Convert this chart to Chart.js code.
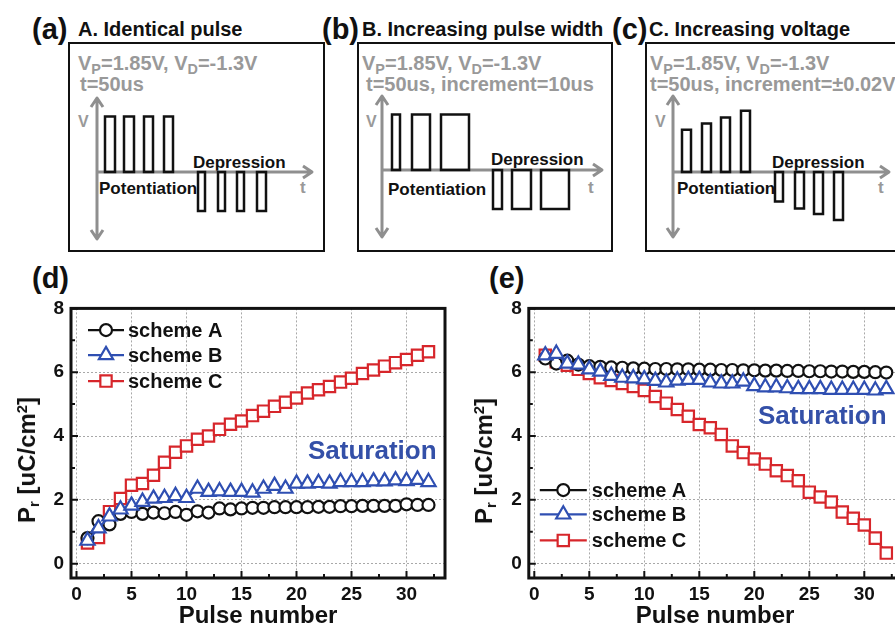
<!DOCTYPE html>
<html>
<head>
<meta charset="utf-8">
<title>Pulse schemes and remanent polarization</title>
<script src="https://cdn.jsdelivr.net/npm/chart.js@4.4.1/dist/chart.umd.min.js"></script>
<style>
    html, body { margin: 0; padding: 0; background: #fff; }
    body {
        position: relative; width: 895px; height: 627px; overflow: hidden;
        font-family: "Liberation Sans", Arial, Helvetica, sans-serif; font-weight: bold; color: #111;
    }
    .txt { position: absolute; white-space: nowrap; line-height: 1; transform: translateY(-50%); }
    .gray { color: #999; }
    .gray sub { font-size: 0.72em; }
    .box { position: absolute; border: 2.5px solid #111; box-sizing: border-box; }
    canvas { position: absolute; }
    sub, sup { font-size: 0.62em; line-height: 0; position: relative; vertical-align: baseline; }
    sub { top: 0.28em; }
    sup { top: -0.55em; }
    .ytitle { position: absolute; white-space: nowrap; line-height: 1; font-size: 24px; transform: translate(-50%, -50%) rotate(-90deg); }
    .xtitle { position: absolute; white-space: nowrap; line-height: 1; font-size: 24px; transform: translate(-50%, -50%); }
    .sat { color: #3450a8; font-size: 26px; }
</style>
</head>
<body>

<!-- top row: pulse schemes -->
<div class="box" style="left:68px;top:42px;width:257px;height:210px;"></div>
<div class="box" style="left:357px;top:42px;width:256px;height:210px;"></div>
<div class="box" style="left:645px;top:42px;width:300px;height:210px;"></div>

<div class="txt" style="left:32px;top:29px;font-size:29px;">(a)</div>
<div class="txt" style="left:78px;top:29px;font-size:20px;">A. Identical pulse</div>
<div class="txt gray" style="left:78px;top:63px;font-size:20px;">V<sub>P</sub>=1.85V, V<sub>D</sub>=-1.3V</div>
<div class="txt gray" style="left:80px;top:84px;font-size:20px;">t=50us</div>
<div class="txt gray" style="left:78px;top:122px;font-size:16px;">V</div>
<div class="txt" style="left:99px;top:188px;font-size:17px;">Potentiation</div>
<div class="txt" style="left:193px;top:162px;font-size:17px;">Depression</div>
<div class="txt gray" style="left:300px;top:187px;font-size:17px;">t</div>

<div class="txt" style="left:322px;top:29px;font-size:29px;">(b)</div>
<div class="txt" style="left:362px;top:29px;font-size:20px;">B. Increasing pulse width</div>
<div class="txt gray" style="left:362px;top:63px;font-size:20px;">V<sub>P</sub>=1.85V, V<sub>D</sub>=-1.3V</div>
<div class="txt gray" style="left:366px;top:84px;font-size:20px;">t=50us, increment=10us</div>
<div class="txt gray" style="left:366px;top:122px;font-size:16px;">V</div>
<div class="txt" style="left:388px;top:189px;font-size:17px;">Potentiation</div>
<div class="txt" style="left:491px;top:159px;font-size:17px;">Depression</div>
<div class="txt gray" style="left:588px;top:187px;font-size:17px;">t</div>

<div class="txt" style="left:612px;top:29px;font-size:29px;">(c)</div>
<div class="txt" style="left:649px;top:29px;font-size:20px;">C. Increasing voltage</div>
<div class="txt gray" style="left:650px;top:63px;font-size:20px;">V<sub>P</sub>=1.85V, V<sub>D</sub>=-1.3V</div>
<div class="txt gray" style="left:650px;top:84px;font-size:20px;">t=50us, increment=±0.02V</div>
<div class="txt gray" style="left:655px;top:122px;font-size:16px;">V</div>
<div class="txt" style="left:677px;top:188px;font-size:17px;">Potentiation</div>
<div class="txt" style="left:772px;top:162px;font-size:17px;">Depression</div>
<div class="txt gray" style="left:878px;top:187px;font-size:17px;">t</div>

<canvas id="pulseA" width="240" height="159" style="left:85px;top:89px;"></canvas>
<canvas id="pulseB" width="245" height="159" style="left:370px;top:87px;"></canvas>
<canvas id="pulseC" width="241" height="159" style="left:661px;top:87px;"></canvas>

<!-- bottom row: Pr vs pulse number -->
<div class="txt" style="left:32px;top:278px;font-size:29px;">(d)</div>
<div class="txt" style="left:489px;top:278px;font-size:29px;">(e)</div>

<canvas id="chartD" width="460" height="337" style="left:0px;top:290px;"></canvas>
<canvas id="chartE" width="472" height="337" style="left:445px;top:290px;"></canvas>

<div class="ytitle" style="left:27px;top:460px;">P<sub>r</sub> [uC/cm<sup>2</sup>]</div>
<div class="ytitle" style="left:484px;top:461px;">P<sub>r</sub> [uC/cm<sup>2</sup>]</div>
<div class="xtitle" style="left:258px;top:615px;">Pulse number</div>
<div class="xtitle" style="left:715px;top:615px;">Pulse number</div>
<div class="txt sat" style="left:308px;top:450px;">Saturation</div>
<div class="txt sat" style="left:758px;top:415px;">Saturation</div>

<script>
// ---- data: Pr vs pulse number ----
var pulseNumbers = [1, 2, 3, 4, 5, 6, 7, 8, 9, 10, 11, 12, 13, 14, 15, 16,
                    17, 18, 19, 20, 21, 22, 23, 24, 25, 26, 27, 28, 29, 30, 31, 32];
var xTicks = [0, 5, 10, 15, 20, 25, 30];
var yTicks = [0, 2, 4, 6, 8];
var seriesNames = ['scheme A', 'scheme B', 'scheme C'];

// (d) potentiation
var potSchemeA = [0.80, 1.33, 1.23, 1.56, 1.62, 1.56, 1.60, 1.58, 1.62, 1.53, 1.64, 1.60, 1.73, 1.70, 1.73, 1.75,
                  1.75, 1.77, 1.77, 1.77, 1.77, 1.78, 1.78, 1.80, 1.80, 1.81, 1.81, 1.81, 1.81, 1.86, 1.84, 1.84];
var potSchemeB = [0.72, 1.11, 1.48, 1.70, 1.82, 1.94, 2.04, 2.06, 2.12, 2.06, 2.35, 2.25, 2.27, 2.25, 2.25, 2.23,
                  2.35, 2.44, 2.35, 2.51, 2.51, 2.53, 2.51, 2.56, 2.56, 2.56, 2.58, 2.58, 2.61, 2.59, 2.63, 2.56];
var potSchemeC = [0.65, 0.82, 1.63, 2.04, 2.46, 2.51, 2.77, 3.18, 3.49, 3.69, 3.90, 4.00, 4.21, 4.37, 4.47, 4.64,
                  4.78, 4.93, 5.06, 5.19, 5.35, 5.45, 5.55, 5.69, 5.81, 5.96, 6.07, 6.19, 6.30, 6.40, 6.53, 6.64];

// (e) depression
var depSchemeA = [6.43, 6.27, 6.36, 6.24, 6.19, 6.17, 6.15, 6.14, 6.12, 6.11, 6.10, 6.10, 6.09, 6.09, 6.08, 6.08,
                  6.07, 6.07, 6.06, 6.06, 6.05, 6.05, 6.04, 6.04, 6.03, 6.03, 6.02, 6.02, 6.01, 6.01, 6.00, 5.99];
var depSchemeB = [6.53, 6.58, 6.27, 6.24, 6.09, 6.02, 5.89, 5.83, 5.81, 5.78, 5.73, 5.68, 5.74, 5.76, 5.76, 5.68,
                  5.65, 5.65, 5.71, 5.57, 5.53, 5.53, 5.50, 5.47, 5.47, 5.47, 5.45, 5.45, 5.45, 5.45, 5.43, 5.47];
var depSchemeC = [6.53, 6.33, 6.22, 6.09, 5.96, 5.83, 5.74, 5.65, 5.55, 5.43, 5.24, 5.03, 4.83, 4.62, 4.36, 4.26,
                  4.05, 3.69, 3.48, 3.28, 3.12, 2.91, 2.76, 2.60, 2.24, 2.09, 1.93, 1.62, 1.42, 1.21, 0.80, 0.33];

// ---- data: pulse schemes (time in a.u., voltage in V) ----
var aPotStart = [8, 27, 47, 67];      var aPotWidth = [10, 10, 9, 9];   var aPotVolt = [1.85, 1.85, 1.85, 1.85];
var aDepStart = [101, 121, 140, 160]; var aDepWidth = [7, 7, 7, 9];     var aDepVolt = [-1.3, -1.3, -1.3, -1.3];

var bPotStart = [10, 30, 59];         var bPotWidth = [8, 18, 28];      var bPotVolt = [1.85, 1.85, 1.85];
var bDepStart = [111, 130, 159];      var bDepWidth = [9, 19, 28];      var bDepVolt = [-1.3, -1.3, -1.3];

var cPotStart = [9, 29, 48, 68];      var cPotWidth = [9, 9, 9, 9];     var cPotVolt = [1.41, 1.62, 1.82, 2.04];
var cDepStart = [102, 122, 141, 161]; var cDepWidth = [8, 9, 9, 9];     var cDepVolt = [-0.98, -1.22, -1.40, -1.60];

var BLACK = '#111111';
var BLUE = '#2f4fb2';
var RED = '#d7262b';
var AXIS_GRAY = '#8f8f8f';

Chart.defaults.font.family = '"Liberation Sans", Arial, Helvetica, sans-serif';
Chart.defaults.font.weight = 'bold';
Chart.defaults.color = BLACK;

// gray V/t axes with arrow heads, drawn under the pulses
var arrowAxes = {
    id: 'arrowAxes',
    beforeDatasetsDraw: function(chart) {
        var ctx = chart.ctx;
        var a = chart.chartArea;
        var x0 = chart.scales.x.getPixelForValue(0);
        var y0 = chart.scales.y.getPixelForValue(0);
        ctx.save();
        ctx.strokeStyle = AXIS_GRAY;
        ctx.lineWidth = 3;
        ctx.lineJoin = 'round';
        ctx.beginPath();
        ctx.moveTo(x0, a.top + 1); ctx.lineTo(x0, a.bottom - 1);
        ctx.moveTo(x0, y0); ctx.lineTo(a.right - 1, y0);
        ctx.moveTo(x0 - 6, a.top + 10); ctx.lineTo(x0, a.top + 1); ctx.lineTo(x0 + 6, a.top + 10);
        ctx.moveTo(x0 - 6, a.bottom - 10); ctx.lineTo(x0, a.bottom - 1); ctx.lineTo(x0 + 6, a.bottom - 10);
        ctx.moveTo(a.right - 10, y0 - 6); ctx.lineTo(a.right - 1, y0); ctx.lineTo(a.right - 10, y0 + 6);
        ctx.stroke();
        ctx.restore();
    }
};

function pulseOutline(starts, widths, volts) {
    var pts = [];
    starts.forEach(function(s, i) {
        var e = s + widths[i];
        var v = volts[i];
        pts.push({x: s, y: 0}, {x: s, y: v}, {x: e, y: v}, {x: e, y: 0}, {x: s, y: 0}, {x: s, y: null});
    });
    return pts;
}

function makePulseChart(id, tMax, vMin, vMax, potStart, potWidth, potVolt, depStart, depWidth, depVolt) {
    var pts = pulseOutline(potStart, potWidth, potVolt).concat(pulseOutline(depStart, depWidth, depVolt));
    return new Chart(document.getElementById(id), {
        type: 'scatter',
        data: {
            datasets: [{
                data: pts,
                showLine: true,
                spanGaps: false,
                borderColor: BLACK,
                borderWidth: 2.5,
                borderJoinStyle: 'miter',
                borderCapStyle: 'square',
                pointRadius: 0,
                fill: false,
                clip: false
            }]
        },
        options: {
            responsive: false,
            animation: false,
            devicePixelRatio: 1,
            layout: { padding: { left: 12, right: 12, top: 8, bottom: 8 } },
            plugins: { legend: { display: false }, tooltip: { enabled: false } },
            scales: {
                x: { type: 'linear', display: false, min: 0, max: tMax },
                y: { type: 'linear', display: false, min: vMin, max: vMax }
            }
        },
        plugins: [arrowAxes]
    });
}

makePulseChart('pulseA', 216, -2.267, 2.5, aPotStart, aPotWidth, aPotVolt, aDepStart, aDepWidth, aDepVolt);
makePulseChart('pulseB', 221, -2.267, 2.5, bPotStart, bPotWidth, bPotVolt, bDepStart, bDepWidth, bDepVolt);
makePulseChart('pulseC', 217, -2.2, 2.567, cPotStart, cPotWidth, cPotVolt, cDepStart, cDepWidth, cDepVolt);

// ---- Pr charts ----
function drawMarker(ctx, style, x, y, r) {
    ctx.beginPath();
    if (style === 'circle') {
        ctx.arc(x, y, r, 0, Math.PI * 2);
    } else if (style === 'triangle') {
        var rad = 0;
        ctx.moveTo(x + Math.sin(rad) * r, y - Math.cos(rad) * r);
        rad += Math.PI * 2 / 3;
        ctx.lineTo(x + Math.sin(rad) * r, y - Math.cos(rad) * r);
        rad += Math.PI * 2 / 3;
        ctx.lineTo(x + Math.sin(rad) * r, y - Math.cos(rad) * r);
        ctx.closePath();
    } else {
        var h = r * Math.SQRT1_2;
        ctx.rect(x - h, y - h, 2 * h, 2 * h);
    }
    ctx.fill();
    ctx.stroke();
}

function midpoints(ticks, max) {
    var out = [];
    var step = ticks[1] - ticks[0];
    ticks.forEach(function(v) {
        if (v + step / 2 < max) out.push(v + step / 2);
    });
    return out;
}

// inward ticks, thick frame and the line+symbol legend
var framePlugin = {
    id: 'frame',
    afterDraw: function(chart, args, opts) {
        var ctx = chart.ctx;
        var a = chart.chartArea;
        var xs = chart.scales.x;
        var ys = chart.scales.y;
        ctx.save();
        ctx.strokeStyle = BLACK;
        ctx.lineWidth = 2;
        ctx.beginPath();
        xTicks.forEach(function(v) {
            var px = xs.getPixelForValue(v);
            ctx.moveTo(px, a.bottom); ctx.lineTo(px, a.bottom - 7);
        });
        midpoints(xTicks, xs.max).forEach(function(v) {
            var px = xs.getPixelForValue(v);
            ctx.moveTo(px, a.bottom); ctx.lineTo(px, a.bottom - 4);
        });
        yTicks.forEach(function(v) {
            var py = ys.getPixelForValue(v);
            ctx.moveTo(a.left, py); ctx.lineTo(a.left + 7, py);
        });
        midpoints(yTicks, ys.max).forEach(function(v) {
            var py = ys.getPixelForValue(v);
            ctx.moveTo(a.left, py); ctx.lineTo(a.left + 4, py);
        });
        ctx.stroke();

        ctx.lineWidth = 3;
        ctx.strokeRect(a.left, a.top, a.right - a.left, a.bottom - a.top);

        // legend
        ctx.font = 'bold 20px "Liberation Sans", Arial, sans-serif';
        ctx.textBaseline = 'middle';
        chart.data.datasets.forEach(function(ds, i) {
            var y = a.top + opts.rows[i];
            ctx.strokeStyle = ds.borderColor;
            ctx.fillStyle = '#ffffff';
            ctx.lineWidth = 2.2;
            ctx.beginPath();
            ctx.moveTo(a.left + opts.lineFrom, y);
            ctx.lineTo(a.left + opts.lineTo, y);
            ctx.stroke();
            drawMarker(ctx, ds.pointStyle, a.left + opts.marker, y, ds.pointRadius);
            ctx.fillStyle = BLACK;
            ctx.fillText(ds.label, a.left + opts.text, y + 1);
        });
        ctx.restore();
    }
};

function series(label, values, color, style, radius, order) {
    return {
        label: label,
        data: pulseNumbers.map(function(p, i) { return {x: p, y: values[i]}; }),
        showLine: true,
        borderColor: color,
        borderWidth: 2.2,
        pointStyle: style,
        pointRadius: radius,
        pointBorderWidth: 2.2,
        pointBorderColor: color,
        pointBackgroundColor: '#ffffff',
        order: order
    };
}

function makePrChart(id, valuesA, valuesB, valuesC, yAxisWidth, rightPad, legendOpts) {
    return new Chart(document.getElementById(id), {
        type: 'scatter',
        data: {
            datasets: [
                series(seriesNames[0], valuesA, BLACK, 'circle', 6, 1),
                series(seriesNames[1], valuesB, BLUE, 'triangle', 8.2, 0),
                series(seriesNames[2], valuesC, RED, 'rect', 8, 2)
            ]
        },
        options: {
            responsive: false,
            animation: false,
            devicePixelRatio: 1,
            layout: { padding: { left: 0, right: rightPad, top: 14, bottom: 0 } },
            plugins: {
                legend: { display: false },
                tooltip: { enabled: false },
                frame: legendOpts
            },
            scales: {
                x: {
                    type: 'linear', min: -0.5, max: 33.5,
                    afterBuildTicks: function(scale) { scale.ticks = xTicks.map(function(v) { return {value: v}; }); },
                    afterFit: function(scale) { scale.height = 49; },
                    grid: { color: '#a8a8a8', lineWidth: 1, drawTicks: false },
                    border: { display: false, dash: [2, 2] },
                    ticks: { font: { size: 19, weight: 'bold' }, color: BLACK, padding: 5, maxRotation: 0, autoSkip: false }
                },
                y: {
                    type: 'linear', min: -0.45, max: 8,
                    afterBuildTicks: function(scale) { scale.ticks = yTicks.map(function(v) { return {value: v}; }); },
                    afterFit: function(scale) { scale.width = yAxisWidth; },
                    grid: { color: '#a8a8a8', lineWidth: 1, drawTicks: false },
                    border: { display: false, dash: [2, 2] },
                    ticks: { font: { size: 19, weight: 'bold' }, color: BLACK, padding: 7, autoSkip: false }
                }
            }
        },
        plugins: [framePlugin]
    });
}

makePrChart('chartD', potSchemeA, potSchemeB, potSchemeC, 71, 15,
    { rows: [21.7, 46.7, 72.7], lineFrom: 17, lineTo: 53, marker: 35, text: 57 });
makePrChart('chartE', depSchemeA, depSchemeB, depSchemeC, 83.8, 14.2,
    { rows: [181.7, 206, 232], lineFrom: 11, lineTo: 58, marker: 34.5, text: 63 });
</script>
</body>
</html>
